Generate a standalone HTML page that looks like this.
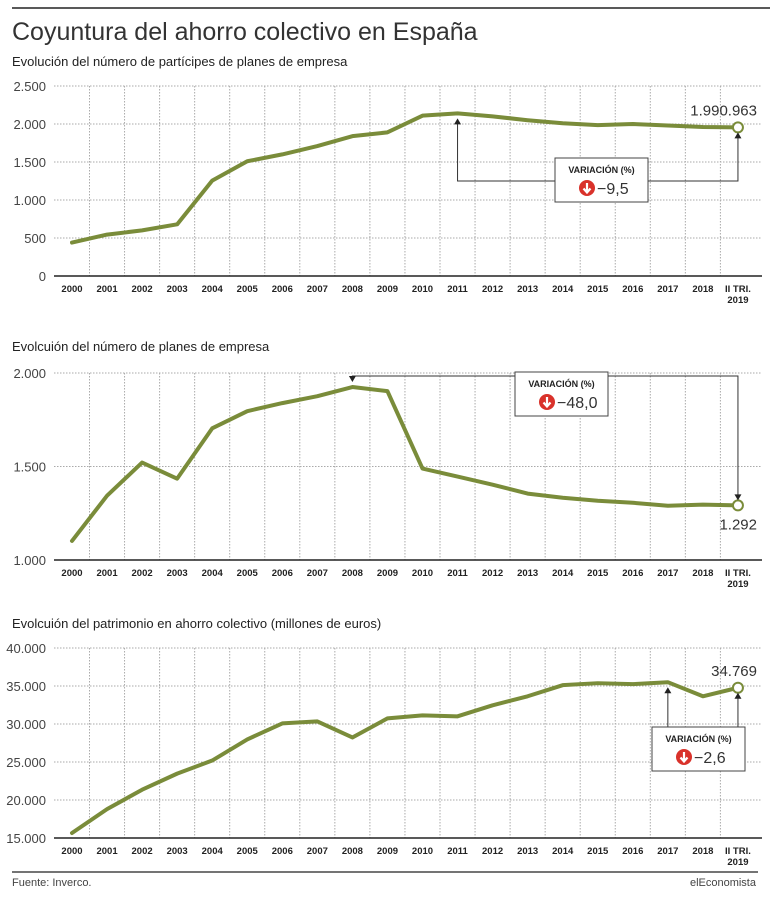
<!DOCTYPE html>
<html><head><meta charset="utf-8">
<style>
html,body{margin:0;padding:0;background:#fff;}
body{width:770px;height:900px;overflow:hidden;font-family:"Liberation Sans",sans-serif;}
svg text{font-family:"Liberation Sans",sans-serif;}
</style></head>
<body>
<svg id="chart" width="770" height="900" viewBox="0 0 770 900">
<line x1="12" y1="8" x2="770" y2="8" stroke="#222" stroke-width="1.5"/>
<text x="12" y="40" font-size="25" fill="#333">Coyuntura del ahorro colectivo en España</text>
<line x1="12" y1="872" x2="758" y2="872" stroke="#222" stroke-width="1.2"/>
<text x="12" y="886" font-size="11" fill="#444">Fuente: Inverco.</text>
<text x="756" y="886" font-size="11" fill="#444" text-anchor="end">elEconomista</text>
</svg>
<script>
const years = ["2000","2001","2002","2003","2004","2005","2006","2007","2008","2009","2010","2011","2012","2013","2014","2015","2016","2017","2018","II TRI."];
const participes = [440,545,600,680,1255,1510,1600,1710,1840,1890,2110,2140,2100,2050,2010,1985,2000,1980,1960,1955];
const planes = [1102,1344,1521,1435,1704,1796,1839,1876,1925,1903,1489,1446,1403,1355,1333,1317,1306,1290,1296,1292];
const patrimonio = [15660,18800,21350,23470,25190,27970,30080,30340,28230,30740,31140,31010,32460,33650,35110,35370,35240,35500,33650,34769];
const ticks1 = [0,500,1000,1500,2000,2500];
const ticks2 = [1000,1500,2000];
const ticks3 = [15000,20000,25000,30000,35000,40000];
const labels = ["1.990.963","1.292","34.769"];
const variations = ["−9,5","−48,0","−2,6"];

const svg = document.getElementById('chart');
const NS = "http://www.w3.org/2000/svg";
function mk(tag, attrs, parent){
  const e = document.createElementNS(NS, tag);
  for (const k in attrs) e.setAttribute(k, attrs[k]);
  (parent||svg).appendChild(e);
  return e;
}
const x = i => 72 + i*35.05;
function fmt(v){ return v.toString().replace(/\B(?=(\d{3})+(?!\d))/g, "."); }

function drawChart(cfg){
  const g = mk('g', {});
  
  
  const y = v => cfg.y0 - (v - cfg.min)/(cfg.max - cfg.min)*(cfg.y0 - cfg.y1);
  const st = mk('text', {x:12, y:cfg.subY, 'font-size':13, fill:'#222'}, g);
  st.textContent = cfg.subtitle;
  
  
  cfg.ticks.forEach(t => {
    if (t !== cfg.min) {
      const gl = mk('line', {x1:54, x2:762, y1:y(t), y2:y(t), stroke:'#aaa', 'stroke-width':1, 'stroke-dasharray':'1.5,1.5'}, g);
      
      
    }
    const tl = mk('text', {x:46, y:y(t)+5, 'font-size':13, fill:'#444', 'text-anchor':'end'}, g);
    tl.textContent = fmt(t);
    
    
  });
  for (let i = 0; i < years.length - 1; i++) {
    const vx = x(i) + 17.5;
    const vl = mk('line', {x1:vx, x2:vx, y1:cfg.y1, y2:cfg.y0, stroke:'#aaa', 'stroke-width':1, 'stroke-dasharray':'1.5,1.5'}, g);
    
    
  }
  const ax = mk('line', {x1:54, x2:762, y1:cfg.y0, y2:cfg.y0, stroke:'#222', 'stroke-width':1.5}, g);
  
  
  years.forEach((yr, i) => {
    const t = mk('text', {x:x(i), y:cfg.y0+16, 'font-size':9.5, 'font-weight':'bold', fill:'#222', 'text-anchor':'middle'}, g);
    t.textContent = yr;
    
    
    if (i === years.length - 1) {
      const t2 = mk('text', {x:x(i), y:cfg.y0+27, 'font-size':9.5, 'font-weight':'bold', fill:'#222', 'text-anchor':'middle'}, g);
      t2.textContent = "2019";
      
      
    }
  });
  const pts = cfg.data.map((v, i) => x(i) + ',' + y(v)).join(' ');
  const line = mk('polyline', {points:pts, fill:'none', stroke:'#7a8c3a', 'stroke-width':4, 'stroke-linejoin':'round', 'stroke-linecap':'round'}, g);
  
  
  const n = cfg.data.length - 1;
  const lx = x(n), ly = y(cfg.data[n]);
  const c = mk('circle', {cx:lx, cy:ly, r:5, fill:'#fff', stroke:'#7a8c3a', 'stroke-width':2}, g);
  
  
  const vlab = mk('text', {x:757, y:cfg.labelBelow ? ly+24 : ly-12, 'font-size':15, fill:'#333', 'text-anchor':'end'}, g);
  vlab.textContent = cfg.label;
  
  
  // annotation
  const ai = cfg.annIdx, axp = x(ai), ayp = y(cfg.data[ai]);
  let path;
  if (cfg.annMode === 'below') {
    path = `M${axp},${ayp+7} V${cfg.annY} H${lx} V${ly+7}`;
  } else {
    path = `M${axp},${ayp-7} V${cfg.annY} H${lx} V${ly-7}`;
  }
  const ap = mk('path', {d:path, fill:'none', stroke:'#333', 'stroke-width':1}, g);
  
  
  const tri = (px, py, up) => {
    const a = mk('path', {d: up ? `M${px-3.5},${py+6} L${px+3.5},${py+6} L${px},${py} Z` : `M${px-3.5},${py-6} L${px+3.5},${py-6} L${px},${py} Z`, fill:'#222'}, g);
    
    
  };
  if (cfg.annMode === 'below') { tri(axp, ayp+5, true); tri(lx, ly+5, true); }
  else { tri(axp, ayp-5, false); tri(lx, ly-5, false); }
  const bx = cfg.box[0], by = cfg.box[1];
  const box = mk('rect', {x:bx, y:by, width:93, height:44, fill:'#fff', stroke:'#444', 'stroke-width':1}, g);
  
  
  const bt = mk('text', {x:bx+46.5, y:by+15, 'font-size':9, 'font-weight':'bold', fill:'#222', 'text-anchor':'middle'}, g);
  bt.textContent = "VARIACIÓN (%)";
  
  
  const ic = mk('circle', {cx:bx+32, cy:by+30, r:8, fill:'#d9322b'}, g);
  
  
  mk('path', {d:`M${bx+32},${by+25} V${by+34} M${bx+28.5},${by+30.5} L${bx+32},${by+34.5} L${bx+35.5},${by+30.5}`, fill:'none', stroke:'#fff', 'stroke-width':2.2}, g);
  const vt = mk('text', {x:bx+42, y:by+36, 'font-size':16, fill:'#333'}, g);
  vt.textContent = cfg.variation;
  
  
}

drawChart({name:'participes-chart', subtitle:'Evolución del número de partícipes de planes de empresa', subY:66,
  data:participes, ticks:ticks1, min:0, max:2500, y0:276, y1:86, label:labels[0], labelBelow:false,
  annIdx:11, annMode:'below', annY:181, box:[555,158], variation:variations[0]});
drawChart({name:'planes-chart', subtitle:'Evolcuión del número de planes de empresa', subY:351,
  data:planes, ticks:ticks2, min:1000, max:2000, y0:560, y1:373, label:labels[1], labelBelow:true,
  annIdx:8, annMode:'above', annY:376, box:[515,372], variation:variations[1]});
drawChart({name:'patrimonio-chart', subtitle:'Evolcuión del patrimonio en ahorro colectivo (millones de euros)', subY:628,
  data:patrimonio, ticks:ticks3, min:15000, max:40000, y0:838, y1:648, label:labels[2], labelBelow:false,
  annIdx:17, annMode:'below', annY:727, box:[652,727], variation:variations[2]});
</script>
</body></html>
